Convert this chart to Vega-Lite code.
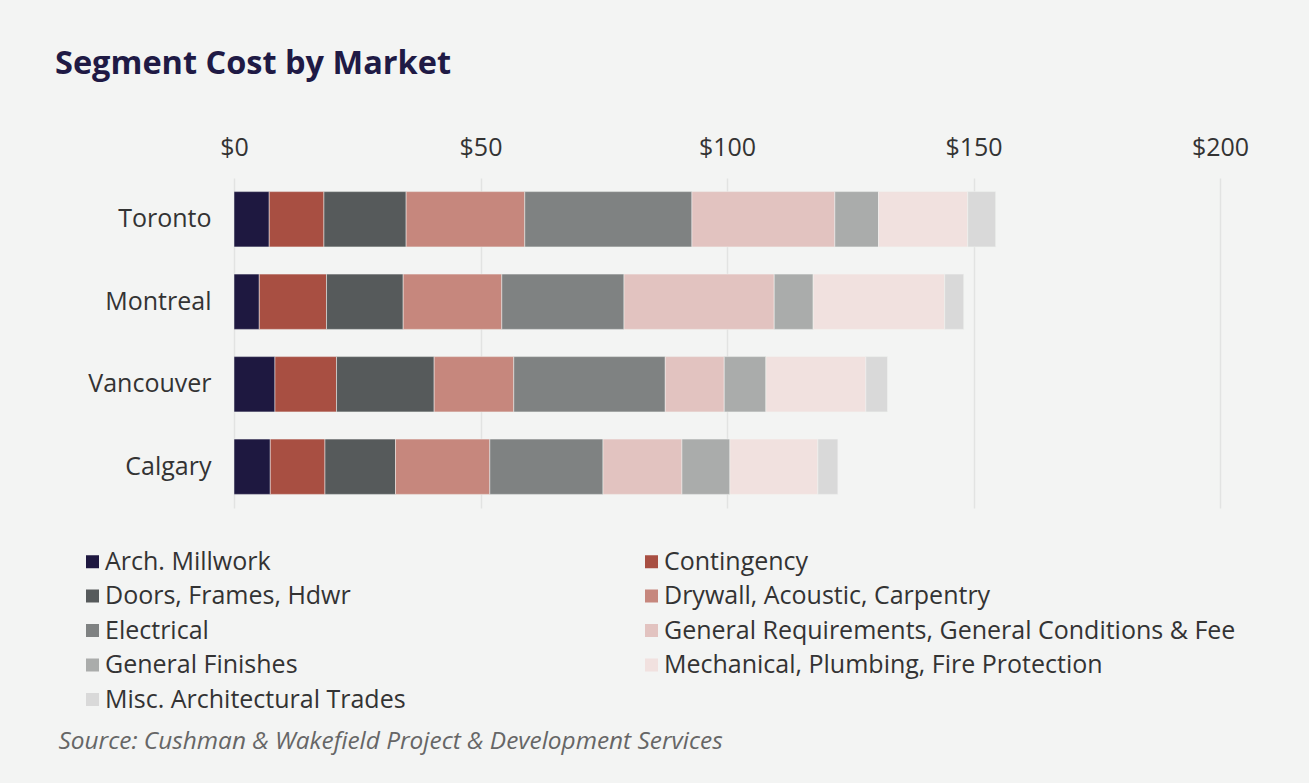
{
  "$schema": "https://vega.github.io/schema/vega-lite/v6.json",
  "autosize": "none",
  "width": 986,
  "height": 330,
  "padding": {"left": 234, "top": 178, "right": 89, "bottom": 275},
  "background": "#f3f4f3",
  "title": {
    "text": "Segment Cost by Market",
    "anchor": "start",
    "frame": "group",
    "dx": -179,
    "font": "Open Sans",
    "fontSize": 32.5,
    "fontWeight": "bold",
    "color": "#1f1a45",
    "offset": 55
  },
  "config": {
    "view": {"stroke": null},
    "font": "Open Sans"
  },
  "data": {
    "values": [
      {"market": "Toronto", "segment": "Arch. Millwork", "cost": 7.15},
      {"market": "Toronto", "segment": "Contingency", "cost": 11.09},
      {"market": "Toronto", "segment": "Doors, Frames, Hdwr", "cost": 16.68},
      {"market": "Toronto", "segment": "Drywall, Acoustic, Carpentry", "cost": 24.06},
      {"market": "Toronto", "segment": "Electrical", "cost": 33.91},
      {"market": "Toronto", "segment": "General Requirements, General Conditions & Fee", "cost": 28.98},
      {"market": "Toronto", "segment": "General Finishes", "cost": 8.86},
      {"market": "Toronto", "segment": "Mechanical, Plumbing, Fire Protection", "cost": 18.1},
      {"market": "Toronto", "segment": "Misc. Architectural Trades", "cost": 5.67},
      {"market": "Montreal", "segment": "Arch. Millwork", "cost": 5.13},
      {"market": "Montreal", "segment": "Contingency", "cost": 13.64},
      {"market": "Montreal", "segment": "Doors, Frames, Hdwr", "cost": 15.55},
      {"market": "Montreal", "segment": "Drywall, Acoustic, Carpentry", "cost": 20.0},
      {"market": "Montreal", "segment": "Electrical", "cost": 24.79},
      {"market": "Montreal", "segment": "General Requirements, General Conditions & Fee", "cost": 30.47},
      {"market": "Montreal", "segment": "General Finishes", "cost": 7.9},
      {"market": "Montreal", "segment": "Mechanical, Plumbing, Fire Protection", "cost": 26.69},
      {"market": "Montreal", "segment": "Misc. Architectural Trades", "cost": 3.85},
      {"market": "Vancouver", "segment": "Arch. Millwork", "cost": 8.31},
      {"market": "Vancouver", "segment": "Contingency", "cost": 12.49},
      {"market": "Vancouver", "segment": "Doors, Frames, Hdwr", "cost": 19.8},
      {"market": "Vancouver", "segment": "Drywall, Acoustic, Carpentry", "cost": 16.15},
      {"market": "Vancouver", "segment": "Electrical", "cost": 30.73},
      {"market": "Vancouver", "segment": "General Requirements, General Conditions & Fee", "cost": 11.96},
      {"market": "Vancouver", "segment": "General Finishes", "cost": 8.45},
      {"market": "Vancouver", "segment": "Mechanical, Plumbing, Fire Protection", "cost": 20.27},
      {"market": "Vancouver", "segment": "Misc. Architectural Trades", "cost": 4.4},
      {"market": "Calgary", "segment": "Arch. Millwork", "cost": 7.36},
      {"market": "Calgary", "segment": "Contingency", "cost": 11.09},
      {"market": "Calgary", "segment": "Doors, Frames, Hdwr", "cost": 14.31},
      {"market": "Calgary", "segment": "Drywall, Acoustic, Carpentry", "cost": 19.13},
      {"market": "Calgary", "segment": "Electrical", "cost": 22.96},
      {"market": "Calgary", "segment": "General Requirements, General Conditions & Fee", "cost": 16.01},
      {"market": "Calgary", "segment": "General Finishes", "cost": 9.73},
      {"market": "Calgary", "segment": "Mechanical, Plumbing, Fire Protection", "cost": 17.84},
      {"market": "Calgary", "segment": "Misc. Architectural Trades", "cost": 4.05}
    ]
  },
  "transform": [
    {
      "calculate": "indexof(['Arch. Millwork','Contingency','Doors, Frames, Hdwr','Drywall, Acoustic, Carpentry','Electrical','General Requirements, General Conditions & Fee','General Finishes','Mechanical, Plumbing, Fire Protection','Misc. Architectural Trades'], datum.segment)",
      "as": "order"
    }
  ],
  "mark": {"type": "bar", "stroke": "#f3f4f3", "strokeWidth": 0.5},
  "encoding": {
    "y": {
      "field": "market",
      "type": "nominal",
      "sort": ["Toronto", "Montreal", "Vancouver", "Calgary"],
      "scale": {"paddingInner": 0.33, "paddingOuter": 0.165},
      "axis": {
        "title": "Source: Cushman & Wakefield Project & Development Services",
        "titleAngle": 0,
        "titleAlign": "left",
        "titleBaseline": "middle",
        "titleX": -176,
        "titleY": 563,
        "titleFont": "Open Sans",
        "titleFontSize": 24.4,
        "titleFontStyle": "italic",
        "titleFontWeight": "normal",
        "titleColor": "#666666",
        "labelFontSize": 25,
        "labelColor": "#333333",
        "labelPadding": 23,
        "ticks": false,
        "domain": false
      }
    },
    "x": {
      "field": "cost",
      "type": "quantitative",
      "stack": "zero",
      "scale": {"domain": [0, 200], "nice": false},
      "axis": {
        "orient": "top",
        "title": null,
        "values": [0, 50, 100, 150, 200],
        "format": "$,.0f",
        "labelFontSize": 25,
        "labelColor": "#333333",
        "labelPadding": 18,
        "labelFlush": false,
        "ticks": false,
        "domain": false,
        "grid": true,
        "gridColor": "#e2e3e2",
        "gridWidth": 1.5
      }
    },
    "order": {"field": "order", "type": "quantitative"},
    "color": {
      "field": "segment",
      "type": "nominal",
      "scale": {
        "domain": ["Arch. Millwork", "Contingency", "Doors, Frames, Hdwr", "Drywall, Acoustic, Carpentry", "Electrical", "General Requirements, General Conditions & Fee", "General Finishes", "Mechanical, Plumbing, Fire Protection", "Misc. Architectural Trades"],
        "range": ["#1e1840", "#a84f42", "#565a5b", "#c6877d", "#7f8282", "#e2c3c0", "#aaacab", "#f1e1df", "#d9d9d9"]
      },
      "legend": {
        "title": null,
        "orient": "none",
        "legendX": -154,
        "legendY": 371,
        "direction": "horizontal",
        "columns": 2,
        "columnPadding": 233,
        "rowPadding": 8.5,
        "padding": 0,
        "symbolType": "square",
        "symbolSize": 169,
        "symbolStrokeWidth": 0,
        "labelFontSize": 25,
        "labelColor": "#333333",
        "labelOffset": 0,
        "labelLimit": 700
      }
    }
  }
}
